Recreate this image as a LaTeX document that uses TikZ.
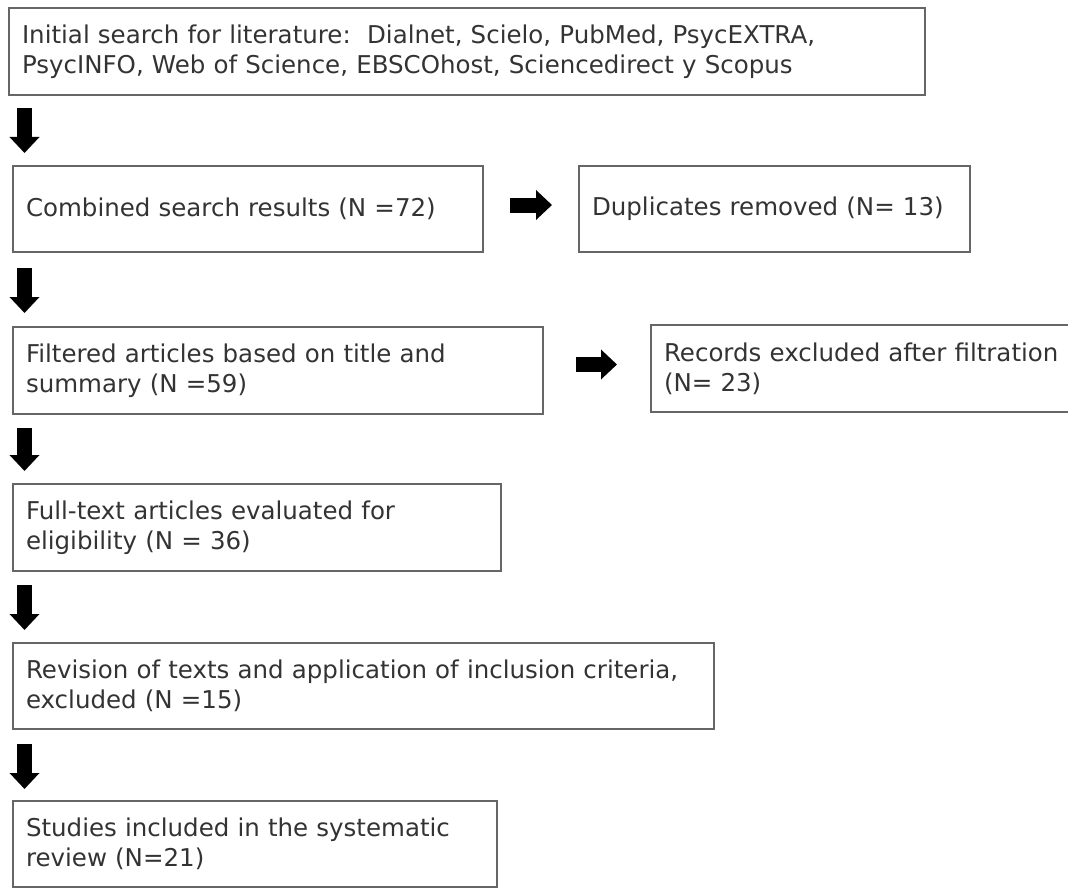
\documentclass[tikz,border=0pt]{standalone}
\usepackage{fontspec}
\setmainfont{DejaVu Sans}
\usetikzlibrary{arrows.meta,calc}
\definecolor{txt}{HTML}{333333}
\definecolor{bord}{HTML}{666666}
\begin{document}
\begin{tikzpicture}[x=1pt,y=-1pt,
  box/.style={draw=bord, line width=2.5pt, rectangle, anchor=north west,
    inner xsep=13pt, inner ysep=0pt, outer sep=0pt, align=left, text=txt,
    font=\fontsize{24.5}{30}\selectfont},
  blk/.style={line width=15pt, -{Triangle[width=29pt,length=16pt]}, black}]
\path[use as bounding box, clip] (0,0) rectangle (1068,888);
\node[box, minimum width=916pt, minimum height=87pt, text width=890pt] (b1) at (9,8)
  {Initial search for literature:\ \ Dialnet, Scielo, PubMed, PsycEXTRA,\\PsycINFO, Web of Science, EBSCOhost, Sciencedirect y Scopus};
\node[box, minimum width=470pt, minimum height=86pt, text width=444pt] (b2) at (13,166)
  {Combined search results (N =72)};
\node[box, minimum width=391pt, minimum height=86pt, text width=365pt] (b3) at (579,166)
  {Duplicates removed (N= 13)};
\node[box, minimum width=530pt, minimum height=87pt, text width=504pt] (b4) at (13,327)
  {Filtered articles based on title and\\summary (N =59)};
\node[box, minimum width=440pt, minimum height=87pt, text width=414pt] (b5) at (651,325)
  {Records excluded after filtration\\(N= 23)};
\node[box, minimum width=488pt, minimum height=87pt, text width=462pt] (b6) at (13,484)
  {Full-text articles evaluated for\\eligibility (N = 36)};
\node[box, minimum width=701pt, minimum height=86pt, text width=675pt] (b7) at (13,643)
  {Revision of texts and application of inclusion criteria,\\excluded (N =15)};
\node[box, minimum width=484pt, minimum height=86pt, text width=458pt] (b8) at (13,801)
  {Studies included in the systematic\\review (N=21)};
\draw[blk] ($(b1.south west)+(15.5,13)$) -- ($(b2.north west)+(11.5,-13)$);
\draw[blk] ($(b2.south west)+(11.5,16)$) -- ($(b4.north west)+(11.5,-14)$);
\draw[blk] ($(b4.south west)+(11.5,14)$) -- ($(b6.north west)+(11.5,-13)$);
\draw[blk] ($(b6.south west)+(11.5,14)$) -- ($(b7.north west)+(11.5,-13)$);
\draw[blk] ($(b7.south west)+(11.5,15)$) -- ($(b8.north west)+(11.5,-12)$);
\draw[blk] ($(b2.east)+(27,-4)$) -- ($(b3.west)+(-27,-4)$);
\draw[blk] ($(b4.east)+(33,-6)$) -- ($(b5.west)+(-34,-4)$);
\end{tikzpicture}
\end{document}
